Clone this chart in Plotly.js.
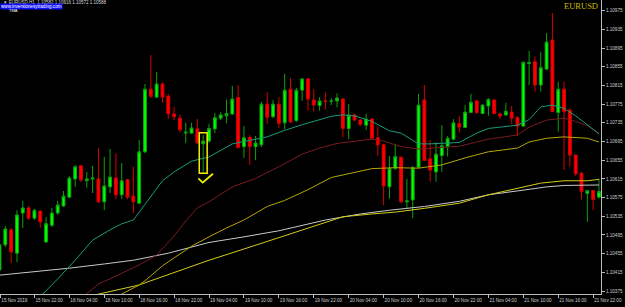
<!DOCTYPE html>
<html>
<head>
<meta charset="utf-8">
<script src="https://cdn.plot.ly/plotly-3.0.1.min.js"></script>
<style>
html,body{margin:0;padding:0;background:#000;}
#chart{width:625px;height:307px;}
</style>
</head>
<body>
<div id="chart"></div>
<script>
// ---- data (EURUSD H1, bar index 0 = 15 Nov 2019 16:00) ----
const barIndex = Array.from({length: 104}, (_, i) => i);

const open = [
1.10420,1.10474,1.10506,1.10456,1.10542,1.10553,1.10531,1.10546,1.10480,1.10516,
1.10542,1.10557,1.10576,1.10615,1.10643,1.10611,1.10615,1.10615,1.10566,1.10598,
1.10617,1.10581,1.10613,1.10578,1.10563,1.10673,1.10807,1.10790,1.10818,1.10792,
1.10754,1.10745,1.10713,1.10713,1.10722,1.10690,1.10696,1.10722,1.10745,1.10750,
1.10754,1.10789,1.10684,1.10704,1.10684,1.10688,1.10775,1.10748,1.10775,1.10735,
1.10807,1.10740,1.10805,1.10829,1.10784,1.10772,1.10782,1.10781,1.10782,1.10786,
1.10723,1.10752,1.10741,1.10730,1.10743,1.10703,1.10688,1.10598,1.10638,1.10661,
1.10566,1.10570,1.10640,1.10784,1.10658,1.10630,1.10665,1.10684,1.10700,1.10733,
1.10725,1.10757,1.10782,1.10755,1.10771,1.10784,1.10754,1.10752,1.10758,1.10746,
1.10728,1.10862,1.10866,1.10816,1.10850,1.10912,1.10757,1.10807,1.10762,1.10666,
1.10627,1.10584,1.10590,1.10576];

const high = [
1.10478,1.10514,1.10510,1.10548,1.10568,1.10557,1.10551,1.10548,1.10533,1.10553,
1.10568,1.10589,1.10621,1.10645,1.10645,1.10630,1.10643,1.10681,1.10662,1.10679,
1.10670,1.10649,1.10615,1.10641,1.10698,1.10818,1.10880,1.10844,1.10822,1.10797,
1.10769,1.10752,1.10735,1.10735,1.10743,1.10709,1.10733,1.10756,1.10758,1.10785,
1.10814,1.10816,1.10728,1.10709,1.10707,1.10780,1.10800,1.10784,1.10790,1.10840,
1.10831,1.10810,1.10831,1.10831,1.10807,1.10790,1.10800,1.10788,1.10798,1.10788,
1.10775,1.10754,1.10743,1.10754,1.10745,1.10727,1.10690,1.10664,1.10690,1.10664,
1.10615,1.10643,1.10797,1.10816,1.10698,1.10693,1.10730,1.10707,1.10743,1.10750,
1.10773,1.10797,1.10784,1.10775,1.10788,1.10786,1.10757,1.10778,1.10771,1.10750,
1.10867,1.10889,1.10877,1.10886,1.10927,1.10970,1.10823,1.10823,1.10767,1.10668,
1.10630,1.10591,1.10591,1.10616];

const low = [
1.10416,1.10469,1.10435,1.10437,1.10510,1.10527,1.10527,1.10510,1.10478,1.10512,
1.10538,1.10555,1.10574,1.10598,1.10608,1.10596,1.10585,1.10563,1.10548,1.10585,
1.10572,1.10572,1.10572,1.10542,1.10561,1.10670,1.10788,1.10788,1.10778,1.10743,
1.10741,1.10715,1.10692,1.10711,1.10690,1.10628,1.10692,1.10713,1.10741,1.10734,
1.10752,1.10681,1.10660,1.10645,1.10655,1.10683,1.10733,1.10745,1.10724,1.10721,
1.10735,1.10737,1.10782,1.10761,1.10759,1.10761,1.10764,1.10773,1.10768,1.10704,
1.10700,1.10739,1.10728,1.10720,1.10700,1.10664,1.10559,1.10573,1.10634,1.10563,
1.10552,1.10531,1.10638,1.10653,1.10609,1.10609,1.10630,1.10663,1.10698,1.10714,
1.10724,1.10756,1.10754,1.10754,1.10750,1.10754,1.10743,1.10750,1.10733,1.10707,
1.10726,1.10816,1.10802,1.10802,1.10848,1.10758,1.10716,1.10634,1.10641,1.10621,
1.10571,1.10523,1.10548,1.10573];

const close = [
1.10474,1.10508,1.10459,1.10538,1.10553,1.10531,1.10548,1.10523,1.10519,1.10542,
1.10559,1.10578,1.10617,1.10641,1.10613,1.10615,1.10617,1.10566,1.10600,1.10619,
1.10581,1.10611,1.10576,1.10566,1.10673,1.10807,1.10792,1.10818,1.10790,1.10754,
1.10748,1.10720,1.10715,1.10724,1.10692,1.10696,1.10723,1.10746,1.10752,1.10755,
1.10786,1.10682,1.10703,1.10684,1.10692,1.10775,1.10747,1.10775,1.10734,1.10805,
1.10737,1.10805,1.10829,1.10786,1.10773,1.10782,1.10781,1.10782,1.10788,1.10723,
1.10752,1.10741,1.10732,1.10743,1.10702,1.10688,1.10600,1.10638,1.10663,1.10566,
1.10568,1.10639,1.10773,1.10655,1.10634,1.10668,1.10686,1.10702,1.10735,1.10726,
1.10758,1.10779,1.10757,1.10773,1.10785,1.10755,1.10750,1.10760,1.10745,1.10728,
1.10864,1.10864,1.10816,1.10853,1.10908,1.10759,1.10807,1.10759,1.10666,1.10626,
1.10588,1.10590,1.10571,1.10588];

// moving averages (bar index, price)
const tealX = [7,9,10,13,16,19,21,23,25,26,28,30,33,36,40,46,49,52,54,57,59,61,64,67,69,72,74,79,82,84,89,91,93,95,97,99,101,103];
const tealY = [1.10363,1.10388,1.10401,1.10441,1.10484,1.10506,1.10519,1.10527,1.10560,1.10576,1.10611,1.10630,1.10653,1.10662,1.10690,1.10705,1.10719,1.10731,1.10738,1.10749,1.10752,1.10750,1.10738,1.10718,1.10713,1.10690,1.10690,1.10693,1.10713,1.10723,1.10730,1.10742,1.10769,1.10773,1.10766,1.10750,1.10731,1.10711];

const redX = [14,17,20,24,27,29,30,32,34,36,40,44,48,52,55,58,62,64,66,69,72,75,79,82,84,89,91,94,97,99,101,103];
const redY = [1.10359,1.10390,1.10407,1.10431,1.10452,1.10480,1.10493,1.10525,1.10553,1.10566,1.10598,1.10616,1.10641,1.10668,1.10681,1.10691,1.10697,1.10700,1.10696,1.10684,1.10679,1.10681,1.10685,1.10694,1.10700,1.10709,1.10726,1.10741,1.10745,1.10738,1.10729,1.10713];

const yelAX = [20,24,25,28,30,33,36,39,42,46,49,53,57,61,64,68,72,76,80,84,89,91,94,97,99,101,103];
const yelAY = [1.10362,1.10388,1.10397,1.10429,1.10446,1.10471,1.10491,1.10510,1.10527,1.10556,1.10569,1.10592,1.10618,1.10628,1.10637,1.10639,1.10638,1.10645,1.10660,1.10673,1.10681,1.10694,1.10702,1.10705,1.10704,1.10702,1.10694];

const yelBX = [14,19,24,26,30,36,42,48,54,59,64,68,73,79,84,90,93,97,101,103];
const yelBY = [1.10360,1.10374,1.10388,1.10397,1.10415,1.10441,1.10465,1.10489,1.10514,1.10534,1.10540,1.10544,1.10552,1.10563,1.10581,1.10598,1.10606,1.10611,1.10611,1.10614];

const whiteX = [0,6,12,18,23,29,36,42,48,56,62,67,73,79,84,90,94,97,101,103];
const whiteY = [1.10409,1.10416,1.10424,1.10433,1.10441,1.10456,1.10479,1.10491,1.10504,1.10527,1.10540,1.10548,1.10556,1.10567,1.10581,1.10591,1.10598,1.10601,1.10602,1.10602];

// axis ticks
const xTickVals = [0.15,6,12,18,24,30,36,42,48,54,60,66,72,78,84,90,96,102];
const xTickText = ["15 Nov 2019","15 Nov 22:00","18 Nov 04:00","18 Nov 10:00","18 Nov 16:00","18 Nov 22:00",
  "19 Nov 04:00","19 Nov 10:00","19 Nov 16:00","19 Nov 22:00","20 Nov 04:00","20 Nov 10:00","20 Nov 16:00",
  "20 Nov 22:00","21 Nov 04:00","21 Nov 10:00","21 Nov 16:00","21 Nov 22:00"];
const yTickVals = [1.10375,1.10415,1.10455,1.10495,1.10535,1.10575,1.10615,1.10655,1.10695,1.10735,1.10775,1.10815,1.10855,1.10895,1.10935,1.10975];
const yTickText = ["1.10375","1.10415","1.10455","1.10495","1.10535","1.10575","1.10615","1.10655","1.10695","1.10735","1.10775","1.10815","1.10855","1.10895","1.10935","1.10975"];

const markedBar = 35;

// ---- chart ----
const W = 625, H = 307, mL = 0, mR = 24, mT = 0, mB = 13;
const plotW = W - mL - mR, plotH = H - mT - mB;
const px = x => x / plotW;            // paper x from pixel
const py = y => 1 - y / plotH;        // paper y from pixel

function ma(x, y, color) {
  return {type: 'scatter', mode: 'lines', x: x, y: y, hoverinfo: 'skip',
          line: {color: color, width: 1}, showlegend: false};
}

const traces = [
  {type: 'candlestick', x: barIndex, open: open, high: high, low: low, close: close,
   increasing: {line: {color: '#0fa00f', width: 1}, fillcolor: '#00ff00'},
   decreasing: {line: {color: '#d80000', width: 1}, fillcolor: '#ff0000'},
   whiskerwidth: 0, hoverinfo: 'skip', showlegend: false},
  ma(whiteX, whiteY, '#c8c8c8'),
  ma(yelBX, yelBY, '#d2cc1a'),
  ma(yelAX, yelAY, '#b4a800'),
  ma(redX, redY, '#7a1c1c'),
  ma(tealX, tealY, '#1a9a7c')
];

const mb = markedBar;
const layout = {
  width: W, height: H,
  margin: {l: mL, r: mR, t: mT, b: mB, pad: 0},
  paper_bgcolor: '#000000', plot_bgcolor: '#000000',
  showlegend: false,
  font: {family: 'Liberation Sans, Arial, sans-serif', color: '#c8c8c8'},
  xaxis: {
    range: [0.086, 103.35], showgrid: false, zeroline: false,
    showline: true, linecolor: '#bdbdbd', linewidth: 1,
    ticks: 'outside', ticklen: 3, tickcolor: '#bdbdbd', tickwidth: 1,
    tickmode: 'array', tickvals: xTickVals, ticktext: xTickText,
    tickangle: 0, automargin: false,
    ticklabelposition: 'outside right', ticklabelstandoff: 1,
    tickfont: {size: 4.6, color: '#cfcfcf', family: 'Liberation Sans, Arial, sans-serif'},
    rangeslider: {visible: false}, fixedrange: true
  },
  yaxis: {
    side: 'right', range: [1.103687, 1.109979], showgrid: false, zeroline: false,
    showline: true, linecolor: '#bdbdbd', linewidth: 1,
    ticks: 'outside', ticklen: 3, tickcolor: '#bdbdbd', tickwidth: 1,
    tickmode: 'array', tickvals: yTickVals, ticktext: yTickText, tickangle: 0,
    tickfont: {size: 4.6, color: '#cfcfcf', family: 'Liberation Sans, Arial, sans-serif'},
    fixedrange: true
  },
  shapes: [
    {type: 'rect', xref: 'x', yref: 'y',
     x0: mb - 0.68, x1: mb + 0.68, y0: low[mb] - 0.00001, y1: high[mb] + 0.00005,
     line: {color: '#f0f000', width: 1.5}, fillcolor: 'rgba(0,0,0,0)', layer: 'above'},
    {type: 'path', xref: 'x', yref: 'y',
     path: 'M ' + (mb - 0.84) + ',' + (low[mb] - 0.00012) +
           ' L ' + (mb - 0.09) + ',' + (low[mb] - 0.00021) +
           ' L ' + (mb + 1.68) + ',' + (low[mb] - 0.00002),
     line: {color: '#f0f000', width: 1.8}, layer: 'above'}
  ],
  annotations: [
    {xref: 'paper', yref: 'paper', x: px(1), y: py(2.6), xanchor: 'left', yanchor: 'middle',
     text: '\u25BC EURUSD,H1  1.10582 1.10616 1.10572 1.10588', showarrow: false,
     font: {size: 4.5, color: '#d8d8d8'}},
    {xref: 'paper', yref: 'paper', x: px(0), y: py(6.4), xanchor: 'left', yanchor: 'middle',
     text: 'www.inversionesytrading.com', showarrow: false, bgcolor: '#1010ff', borderpad: 0,
     font: {size: 4.6, color: '#ffffff'}},
    {xref: 'paper', yref: 'paper', x: px(7), y: py(10.5), xanchor: 'left', yanchor: 'middle',
     text: 'TMA', showarrow: false, font: {size: 4, color: '#ffffff'}},
    {xref: 'paper', yref: 'paper', x: px(600), y: py(6), xanchor: 'right', yanchor: 'middle',
     text: 'EURUSD', showarrow: false,
     font: {size: 8.5, color: '#c8bc00', family: 'Liberation Serif, Times New Roman, serif'}}
  ]
};

Plotly.newPlot('chart', traces, layout, {staticPlot: true, displayModeBar: false});
</script>
</body>
</html>
